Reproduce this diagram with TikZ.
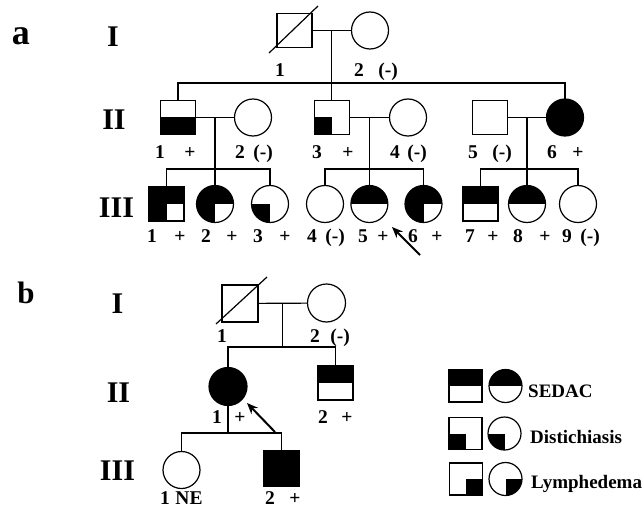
\documentclass[tikz,border=0pt]{standalone}
\usepackage{fontspec}
\setmainfont{Liberation Serif}
\usetikzlibrary{arrows.meta,calc}
\begin{document}
\begin{tikzpicture}[x=1pt,y=-1pt,
  pd/.style={draw, line width=1.2pt, inner sep=0pt, outer sep=0pt},
  sq/.style={pd, rectangle, minimum width=35pt, minimum height=34pt},
  ci/.style={pd, circle, minimum size=37pt},
  lsq/.style={pd, rectangle, minimum width=33pt, minimum height=32pt},
  lci/.style={pd, circle, minimum size=33pt},
  full/.style={fill=black},
  tophalf/.style={path picture={\fill (path picture bounding box.north west) rectangle (path picture bounding box.east);}},
  bothalf/.style={path picture={\fill (path picture bounding box.west) rectangle (path picture bounding box.south east);}},
  lowleft/.style={path picture={\fill (path picture bounding box.west) rectangle (path picture bounding box.south);}},
  lowright/.style={path picture={\fill (path picture bounding box.center) rectangle (path picture bounding box.south east);}},
  threeq/.style={path picture={\fill (path picture bounding box.north west) rectangle (path picture bounding box.east);
                               \fill (path picture bounding box.west) rectangle (path picture bounding box.south);}},
  link/.style={line width=1.2pt},
  dead/.style={line width=1.2pt},
  pointer/.style={line width=2pt, -{Stealth[length=11pt,width=9pt]}},
  lab/.style={font=\fontsize{19.5}{22}\selectfont\bfseries, inner sep=0pt, anchor=base},
  gen/.style={font=\fontsize{30}{34}\selectfont\bfseries, inner sep=0pt, anchor=base},
  legtxt/.style={font=\fontsize{19}{22}\selectfont\bfseries, inner sep=0pt, anchor=base west},
]
\useasboundingbox (0,0) rectangle (642,508);

% ---------------- panel a ----------------
\node[font=\fontsize{36}{40}\selectfont\bfseries, inner sep=0pt, anchor=base] (pa) at (21,45) {a};
\node[gen] (gaI) at (113,47) {I};
\node[gen] (gaII) at (114,130) {II};
\node[gen] (gaIII) at (116.5,217) {III};

\coordinate (rowI) at (0,30.5);
\coordinate (rowII) at (0,117.5);
\coordinate (rowIII) at (0,204);
\coordinate (sibII) at (0,83);
\coordinate (sibIII) at (0,169);

% generation I
\node[sq] (aI1) at (294.5,30.5) {};
\node[ci] (aI2) at (370,30.5) {};
\coordinate (dA1) at (269,53);
\coordinate (dA2) at (318,6);
\draw[dead] (dA1) -- (dA2);
\draw[link] (aI1) -- (aI2);
\coordinate (mA) at ($(aI1.east)!0.5!(aI2.west)$);

% generation II
\node[sq, bothalf] (aII1) at (178,117.5) {};
\node[ci] (aII2) at (253,117.5) {};
\node[sq, lowleft] (aII3) at (mA |- rowII) {};
\node[ci] (aII4) at (408,117.5) {};
\node[sq] (aII5) at (490,117.5) {};
\node[ci, full] (aII6) at (565,117.5) {};
\coordinate (sA) at (mA |- sibII);
\draw[link] (mA) -- (aII3.north);
\draw[link] (aII1.north) |- (sA) -| (aII6.north);
\draw[link] (aII1) -- (aII2);
\draw[link] (aII3) -- (aII4);
\draw[link] (aII5) -- (aII6);
\coordinate (mB) at ($(aII1.east)!0.5!(aII2.west)$);
\coordinate (mC) at ($(aII3.east)!0.5!(aII4.west)$);
\coordinate (mD) at ($(aII5.east)!0.5!(aII6.west)$);

% generation III
\node[sq, threeq] (aIII1) at (166.5,204) {};
\node[ci, threeq] (aIII2) at (mB |- rowIII) {};
\node[ci, lowleft] (aIII3) at (270,204) {};
\node[ci] (aIII4) at (325,204) {};
\node[ci, tophalf] (aIII5) at (mC |- rowIII) {};
\node[ci, threeq] (aIII6) at (423.5,204) {};
\node[sq, tophalf] (aIII7) at (480.5,204) {};
\node[ci, tophalf] (aIII8) at (mD |- rowIII) {};
\node[ci] (aIII9) at (578,204) {};
\coordinate (sB) at (mB |- sibIII);
\coordinate (sC) at (mC |- sibIII);
\coordinate (sD) at (mD |- sibIII);
\draw[link] (mB) -- (aIII2.north);
\draw[link] (mC) -- (aIII5.north);
\draw[link] (mD) -- (aIII8.north);
\draw[link] (aIII1.north) |- (sB) -| (aIII3.north);
\draw[link] (aIII4.north) |- (sC) -| (aIII6.north);
\draw[link] (aIII7.north) |- (sD) -| (aIII9.north);

% labels, panel a
\node[lab] (laI1) at (280,77) {1};
\node[lab] (laI2) at (359,77) {2};
\node[lab] (laI2s) at (388,77) {(-)};

\node[lab] (laII1) at (160,158) {1};
\node[lab] (laII1s) at (190,158) {+};
\node[lab] (laII2) at (240,158) {2};
\node[lab] (laII2s) at (263,158) {(-)};
\node[lab] (laII3) at (317,158) {3};
\node[lab] (laII3s) at (348,158) {+};
\node[lab] (laII4) at (395,158) {4};
\node[lab] (laII4s) at (417,158) {(-)};
\node[lab] (laII5) at (473,158) {5};
\node[lab] (laII5s) at (502,158) {(-)};
\node[lab] (laII6) at (552,158) {6};
\node[lab] (laII6s) at (578,158) {+};

\node[lab] (laIII1) at (152,242) {1};
\node[lab] (laIII1s) at (180,242) {+};
\node[lab] (laIII2) at (206,242) {2};
\node[lab] (laIII2s) at (232,242) {+};
\node[lab] (laIII3) at (258,242) {3};
\node[lab] (laIII3s) at (285,242) {+};
\node[lab] (laIII4) at (312,242) {4};
\node[lab] (laIII4s) at (335,242) {(-)};
\node[lab] (laIII5) at (363,242) {5};
\node[lab] (laIII5s) at (383,242) {+};
\node[lab] (laIII6) at (413,242) {6};
\node[lab] (laIII6s) at (437,242) {+};
\node[lab] (laIII7) at (470,242) {7};
\node[lab] (laIII7s) at (493,242) {+};
\node[lab] (laIII8) at (518,242) {8};
\node[lab] (laIII8s) at (545,242) {+};
\node[lab] (laIII9) at (567,242) {9};
\node[lab] (laIII9s) at (590,242) {(-)};

% proband, panel a
\coordinate (pAt) at (420,255);
\coordinate (pAh) at (392,227);
\draw[pointer] (pAt) -- (pAh);

% ---------------- panel b ----------------
\node[font=\fontsize{31}{34}\selectfont\bfseries, inner sep=0pt, anchor=base] (pb) at (26,303) {b};
\node[gen] (gbI) at (117.5,313) {I};
\node[gen] (gbII) at (118.5,402) {II};
\node[gen] (gbIII) at (117.5,480) {III};

% generation I
\node[sq, minimum height=37pt, minimum width=36pt] (bI1) at (240,303.5) {};
\node[ci, minimum size=38pt] (bI2) at (326.5,303) {};
\coordinate (dB1) at (216,324);
\coordinate (dB2) at (267,277);
\draw[dead] (dB1) -- (dB2);
\draw[link] (bI1) -- (bI2);
\coordinate (mE) at ($(bI1.east)!0.5!(bI2.west)$);

% generation II
\node[ci, full, minimum size=38pt] (bII1) at (228,386.5) {};
\node[sq, tophalf] (bII2) at (335.5,383) {};
\coordinate (sE) at (mE |- 0,347);
\draw[link] (mE) -- (sE);
\draw[link] (bII1.north) |- (sE) -| (bII2.north);

% generation III
\node[ci] (bIII1) at (181.5,470) {};
\node[sq, full, minimum height=36pt, minimum width=36pt] (bIII2) at (281.5,468.5) {};
\coordinate (sF) at (bII1.south |- 0,433);
\draw[link] (bII1.south) -- (sF);
\draw[link] (bIII1.north) |- (sF) -| (bIII2.north);

% labels, panel b
\node[lab] (lbI1) at (222,342) {1};
\node[lab] (lbI2) at (315,342) {2};
\node[lab] (lbI2s) at (340,342) {(-)};
\node[lab] (lbII1) at (217,423) {1};
\node[lab] (lbII1s) at (240,423) {+};
\node[lab] (lbII2) at (323,423) {2};
\node[lab] (lbII2s) at (347,423) {+};
\node[lab] (lbIII1) at (165,504) {1};
\node[lab] (lbIII1s) at (189,504) {NE};
\node[lab] (lbIII2) at (270,504) {2};
\node[lab] (lbIII2s) at (295,504) {+};

% proband, panel b
\coordinate (pBt) at (275,432);
\coordinate (pBh) at (247,403);
\draw[pointer] (pBt) -- (pBh);

% ---------------- legend ----------------
\node[lsq, tophalf] (kS1) at (465.5,386) {};
\node[lci, tophalf] (kC1) at (505.5,386) {};
\node[legtxt] (kT1) at (528,397) {SEDAC};
\node[lsq, lowleft] (kS2) at (465.5,433.5) {};
\node[lci, lowleft] (kC2) at (504.5,433.5) {};
\node[legtxt] (kT2) at (530,443) {Distichiasis};
\node[lsq, lowright] (kS3) at (466,479) {};
\node[lci, lowright] (kC3) at (505.5,479) {};
\node[legtxt] (kT3) at (531,488) {Lymphedema};
\end{tikzpicture}
\end{document}
